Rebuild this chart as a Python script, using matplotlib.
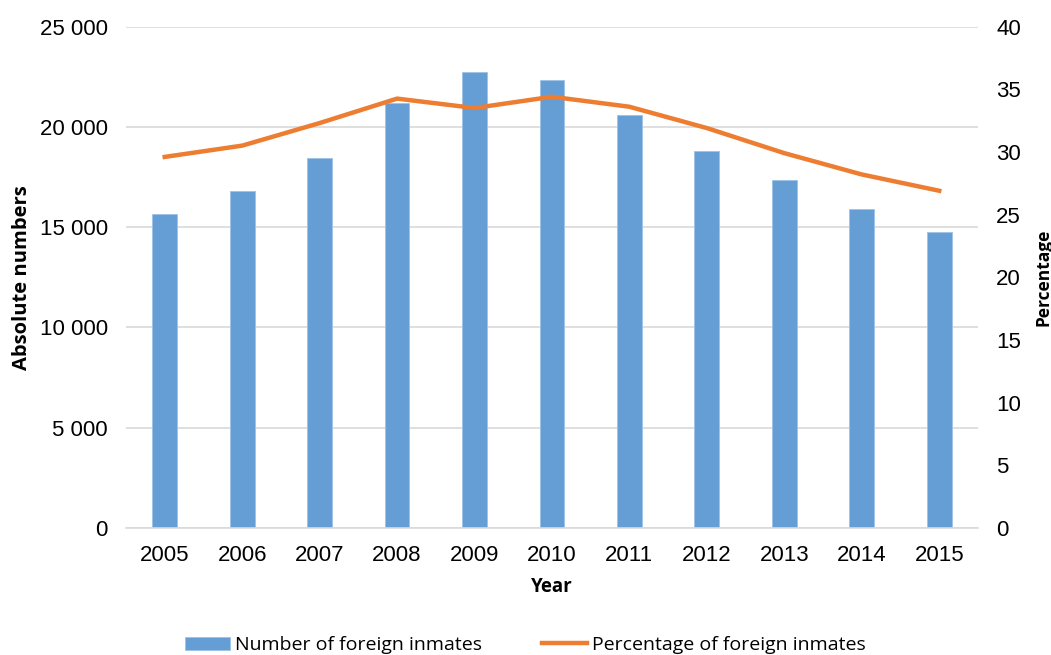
import matplotlib
matplotlib.use("Agg")
from matplotlib import pyplot as plt
from matplotlib.ticker import FuncFormatter

# 数据
years = ["2005", "2006", "2007", "2008", "2009", "2010",
         "2011", "2012", "2013", "2014", "2015"]
inmates = [15650, 16800, 18450, 21200, 22750, 22350,
           20600, 18800, 17350, 15900, 14750]
percent = [29.6, 30.5, 32.3, 34.25, 33.5, 34.4,
           33.6, 31.9, 29.9, 28.2, 26.9]

blue = "#659ED5"
orange = "#ED7D31"
grid = "#D9D9D9"
tick_font = "Liberation Sans"
label_font = "Open Sans"

fig = plt.figure(figsize=(10.51, 6.55), dpi=100)
ax = fig.add_axes([0.1199, 0.1939, 0.8106, 0.7656])
x = list(range(len(years)))

bars = ax.bar(x, inmates, width=0.32, color=blue, edgecolor="#9DC3E6",
              linewidth=0.6, label="Number of foreign inmates", zorder=2)
ax.set_ylim(0, 25000)
ax.set_yticks(range(0, 25001, 5000))
ax.yaxis.set_major_formatter(FuncFormatter(lambda v, p: f"{int(v):,}".replace(",", " ")))
ax.set_xlim(-0.5, len(years) - 0.5)
ax.set_xticks(x)
ax.set_xticklabels(years)
ax.grid(axis="y", color=grid, linewidth=1.2, zorder=0)
ax.set_axisbelow(True)
for s in ["top", "left", "right"]:
    ax.spines[s].set_visible(False)
ax.spines["bottom"].set_color(grid)
ax.spines["bottom"].set_linewidth(1.2)
ax.tick_params(length=0, labelsize=16)
ax.tick_params(axis="x", pad=12)
ax.tick_params(axis="y", pad=13)
for t in ax.get_xticklabels() + ax.get_yticklabels():
    t.set_fontfamily(tick_font)

ax.set_xlabel("Year", fontsize=13.5, fontweight="bold", fontfamily=label_font, labelpad=8)
ax.set_ylabel("Absolute numbers", fontsize=14.5, fontweight="bold", fontfamily=label_font, labelpad=6)

ax2 = ax.twinx()
line, = ax2.plot(x, percent, color=orange, linewidth=3.2,
                 label="Percentage of foreign inmates", zorder=3)
ax2.set_ylim(0, 40)
ax2.set_yticks(range(0, 41, 5))
for s in ["top", "left", "right", "bottom"]:
    ax2.spines[s].set_visible(False)
ax2.tick_params(length=0, labelsize=16, pad=13)
for t in ax2.get_yticklabels():
    t.set_fontfamily(tick_font)
ax2.set_ylabel("Percentage", fontsize=12.5, fontweight="bold", fontfamily=label_font, labelpad=10)

fig.legend([bars, line], ["Number of foreign inmates", "Percentage of foreign inmates"],
           loc="center", bbox_to_anchor=(0.5, 0.015), ncol=2, frameon=False,
           prop={"family": label_font, "size": 14}, handlelength=2.3,
           handletextpad=0.25, columnspacing=3.1)

fig.savefig("out.png", dpi=100)
